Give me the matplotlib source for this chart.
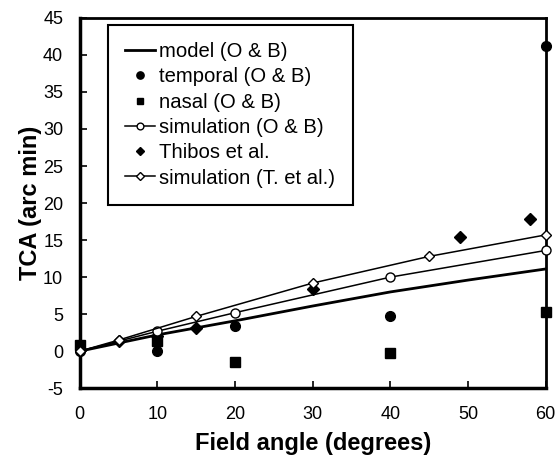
import matplotlib
matplotlib.use("Agg")
import matplotlib.pyplot as plt

plt.rcParams['font.family'] = ['Liberation Sans', 'DejaVu Sans']
plt.rcParams['axes.unicode_minus'] = False

# Data
model_x = [0, 10, 20, 30, 40, 50, 60]
model_y = [0, 2.2, 4.1, 6.1, 8.0, 9.6, 11.1]

temporal_x = [0, 10, 20, 40, 60]
temporal_y = [0, 0.0, 3.4, 4.7, 41.2]

nasal_x = [0, 10, 20, 40, 60]
nasal_y = [0.8, 1.4, -1.5, -0.2, 5.3]

sim_ob_x = [0, 10, 20, 40, 60]
sim_ob_y = [0, 2.7, 5.2, 10.0, 13.6]

thibos_x = [5, 10, 15, 30, 49, 58]
thibos_y = [1.4, 2.0, 3.1, 8.4, 15.4, 17.8]

sim_t_x = [0, 5, 15, 30, 45, 60]
sim_t_y = [0, 1.5, 4.7, 9.2, 12.8, 15.7]

xticks = [0, 10, 20, 30, 40, 50, 60]
yticks = [-5, 0, 5, 10, 15, 20, 25, 30, 35, 40, 45]

fig = plt.figure(figsize=(5.58, 4.70), dpi=100)
ax = fig.add_axes([0.143, 0.174, 0.835, 0.788])

ax.plot(model_x, model_y, color='black', lw=2.0, label='model (O & B)', zorder=3)
ax.plot(temporal_x, temporal_y, 'o', color='black', ms=7, ls='none',
        label='temporal (O & B)', clip_on=False, zorder=4)
ax.plot(nasal_x, nasal_y, 's', color='black', ms=6.5, ls='none',
        label='nasal (O & B)', clip_on=False, zorder=4)
ax.plot(sim_ob_x, sim_ob_y, '-o', color='black', lw=1.1, ms=6.5, mfc='white',
        mew=1.0, label='simulation (O & B)', clip_on=False, zorder=5)
ax.plot(thibos_x, thibos_y, 'D', color='black', ms=6, ls='none',
        label='Thibos et al.', clip_on=False, zorder=4)
ax.plot(sim_t_x, sim_t_y, '-D', color='black', lw=1.1, ms=5, mfc='white',
        mew=1.0, label='simulation (T. et al.)', clip_on=False, zorder=5)

ax.set_xlim(0, 60)
ax.set_ylim(-5, 45)
ax.set_xticks(xticks)
ax.set_yticks(yticks)
ax.tick_params(direction='in', length=5, width=1.2, labelsize=13, pad=12)
ax.tick_params(axis='x', pad=13)

for s in ['left', 'bottom']:
    ax.spines[s].set_linewidth(2.5)
for s in ['top', 'right']:
    ax.spines[s].set_linewidth(2.0)

ax.set_xlabel('Field angle (degrees)', fontsize=17, fontweight='bold', labelpad=6)
ax.set_ylabel('TCA (arc min)', fontsize=17, fontweight='bold', labelpad=1)

leg = ax.legend(loc='upper left', bbox_to_anchor=(0.06, 0.981), fontsize=14.6,
                frameon=True, fancybox=False, edgecolor='black', framealpha=1,
                handlelength=1.5, handletextpad=0.2, labelspacing=0.31,
                borderpad=0.85, borderaxespad=0, markerscale=0.75)
leg.get_frame().set_linewidth(1.5)

fig.savefig('out.png', dpi=100)
